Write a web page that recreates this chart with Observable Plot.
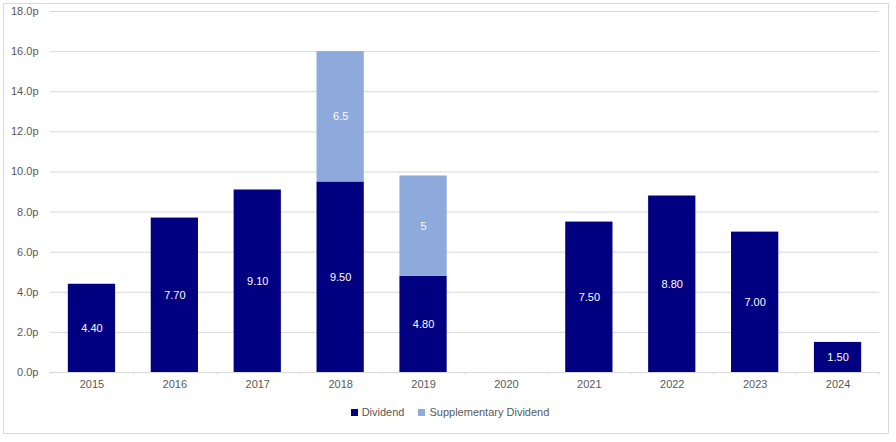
<!DOCTYPE html>
<html>
<head>
<meta charset="utf-8">
<script src="https://cdn.jsdelivr.net/npm/d3@7"></script>
<script src="https://cdn.jsdelivr.net/npm/@observablehq/plot@0.6"></script>
<style>
  html, body { margin: 0; padding: 0; background: #fff; }
  #wrap { position: relative; width: 896px; height: 442px; font-family: "Liberation Sans", Arial, sans-serif; }
  #frame { position: absolute; left: 3px; top: 3px; width: 886px; height: 431px; border: 1px solid #d9d9d9; box-sizing: border-box; }
  #chart { position: absolute; left: 0; top: 0; }
  #legend { position: absolute; top: 406px; left: 0; width: 896px; display: flex; justify-content: center; gap: 14px; font-size: 11px; color: #595959; padding-left: 4px; box-sizing: border-box; }
  .item { display: flex; align-items: center; gap: 4px; }
  .sw { width: 7px; height: 7px; display: inline-block; }
</style>
</head>
<body>
<div id="wrap">
  <div id="frame"></div>
  <div id="chart"></div>
  <div id="legend"></div>
</div>
<script>
const years = ["2015","2016","2017","2018","2019","2020","2021","2022","2023","2024"];
const dividend = [4.40, 7.70, 9.10, 9.50, 4.80, 0.00, 7.50, 8.80, 7.00, 1.50];
const supplementary = [null, null, null, 6.5, 5, null, null, null, null, null];
const seriesNames = ["Dividend", "Supplementary Dividend"];
const seriesColors = ["#000080", "#8EA9DB"];
const yTicks = [0, 2, 4, 6, 8, 10, 12, 14, 16, 18];

const rows = [];
years.forEach((y, i) => {
  rows.push({year: y, series: seriesNames[0], value: dividend[i], label: dividend[i].toFixed(2)});
  if (supplementary[i] != null) rows.push({year: y, series: seriesNames[1], value: supplementary[i], label: String(supplementary[i])});
});

const W = 896, H = 395;
const mL = 50, mR = 17, mT = 11, mB = 23;
const step = (W - mL - mR) / years.length;

const chart = Plot.plot({
  width: W, height: H,
  marginLeft: mL, marginRight: mR, marginTop: mT, marginBottom: mB,
  style: {fontFamily: "Liberation Sans, Arial, sans-serif", fontSize: "11px", color: "#595959", background: "transparent"},
  x: {domain: years, paddingInner: 0.43, paddingOuter: 0.215, round: false, label: null},
  y: {domain: [0, 18], ticks: yTicks, label: null},
  color: {domain: seriesNames, range: seriesColors},
  marks: [
    Plot.gridY(yTicks.filter(d => d > 0), {stroke: "#d9d9d9", strokeOpacity: 1}),
    Plot.axisY({ticks: yTicks, tickSize: 0, tickPadding: 12, tickFormat: d => d.toFixed(1) + "p", fill: "#595959", fontSize: 11}),
    Plot.axisX({tickSize: 0, tickPadding: 8, fill: "#595959", fontSize: 11}),
    Plot.barY(rows, Plot.stackY({x: "year", y: "value", fill: "series", order: seriesNames})),
    Plot.text(rows, Plot.stackY({x: "year", y: "value", z: "series", order: seriesNames, text: "label", fill: "white", fontSize: 11})),
    Plot.ruleY([0], {stroke: "#d9d9d9"}),
    Plot.ruleX(years, {x: d => d, y1: 0, y2: -0.11, dx: -step / 2, stroke: "#d9d9d9"}),
    Plot.ruleX([years[years.length - 1]], {x: d => d, y1: 0, y2: -0.11, dx: step / 2, stroke: "#d9d9d9"})
  ]
});
document.getElementById("chart").appendChild(chart);

const legend = document.getElementById("legend");
seriesNames.forEach((n, i) => {
  const it = document.createElement("div");
  it.className = "item";
  const sw = document.createElement("span");
  sw.className = "sw";
  sw.style.background = seriesColors[i];
  const t = document.createElement("span");
  t.textContent = n;
  it.appendChild(sw); it.appendChild(t);
  legend.appendChild(it);
});
</script>
</body>
</html>
